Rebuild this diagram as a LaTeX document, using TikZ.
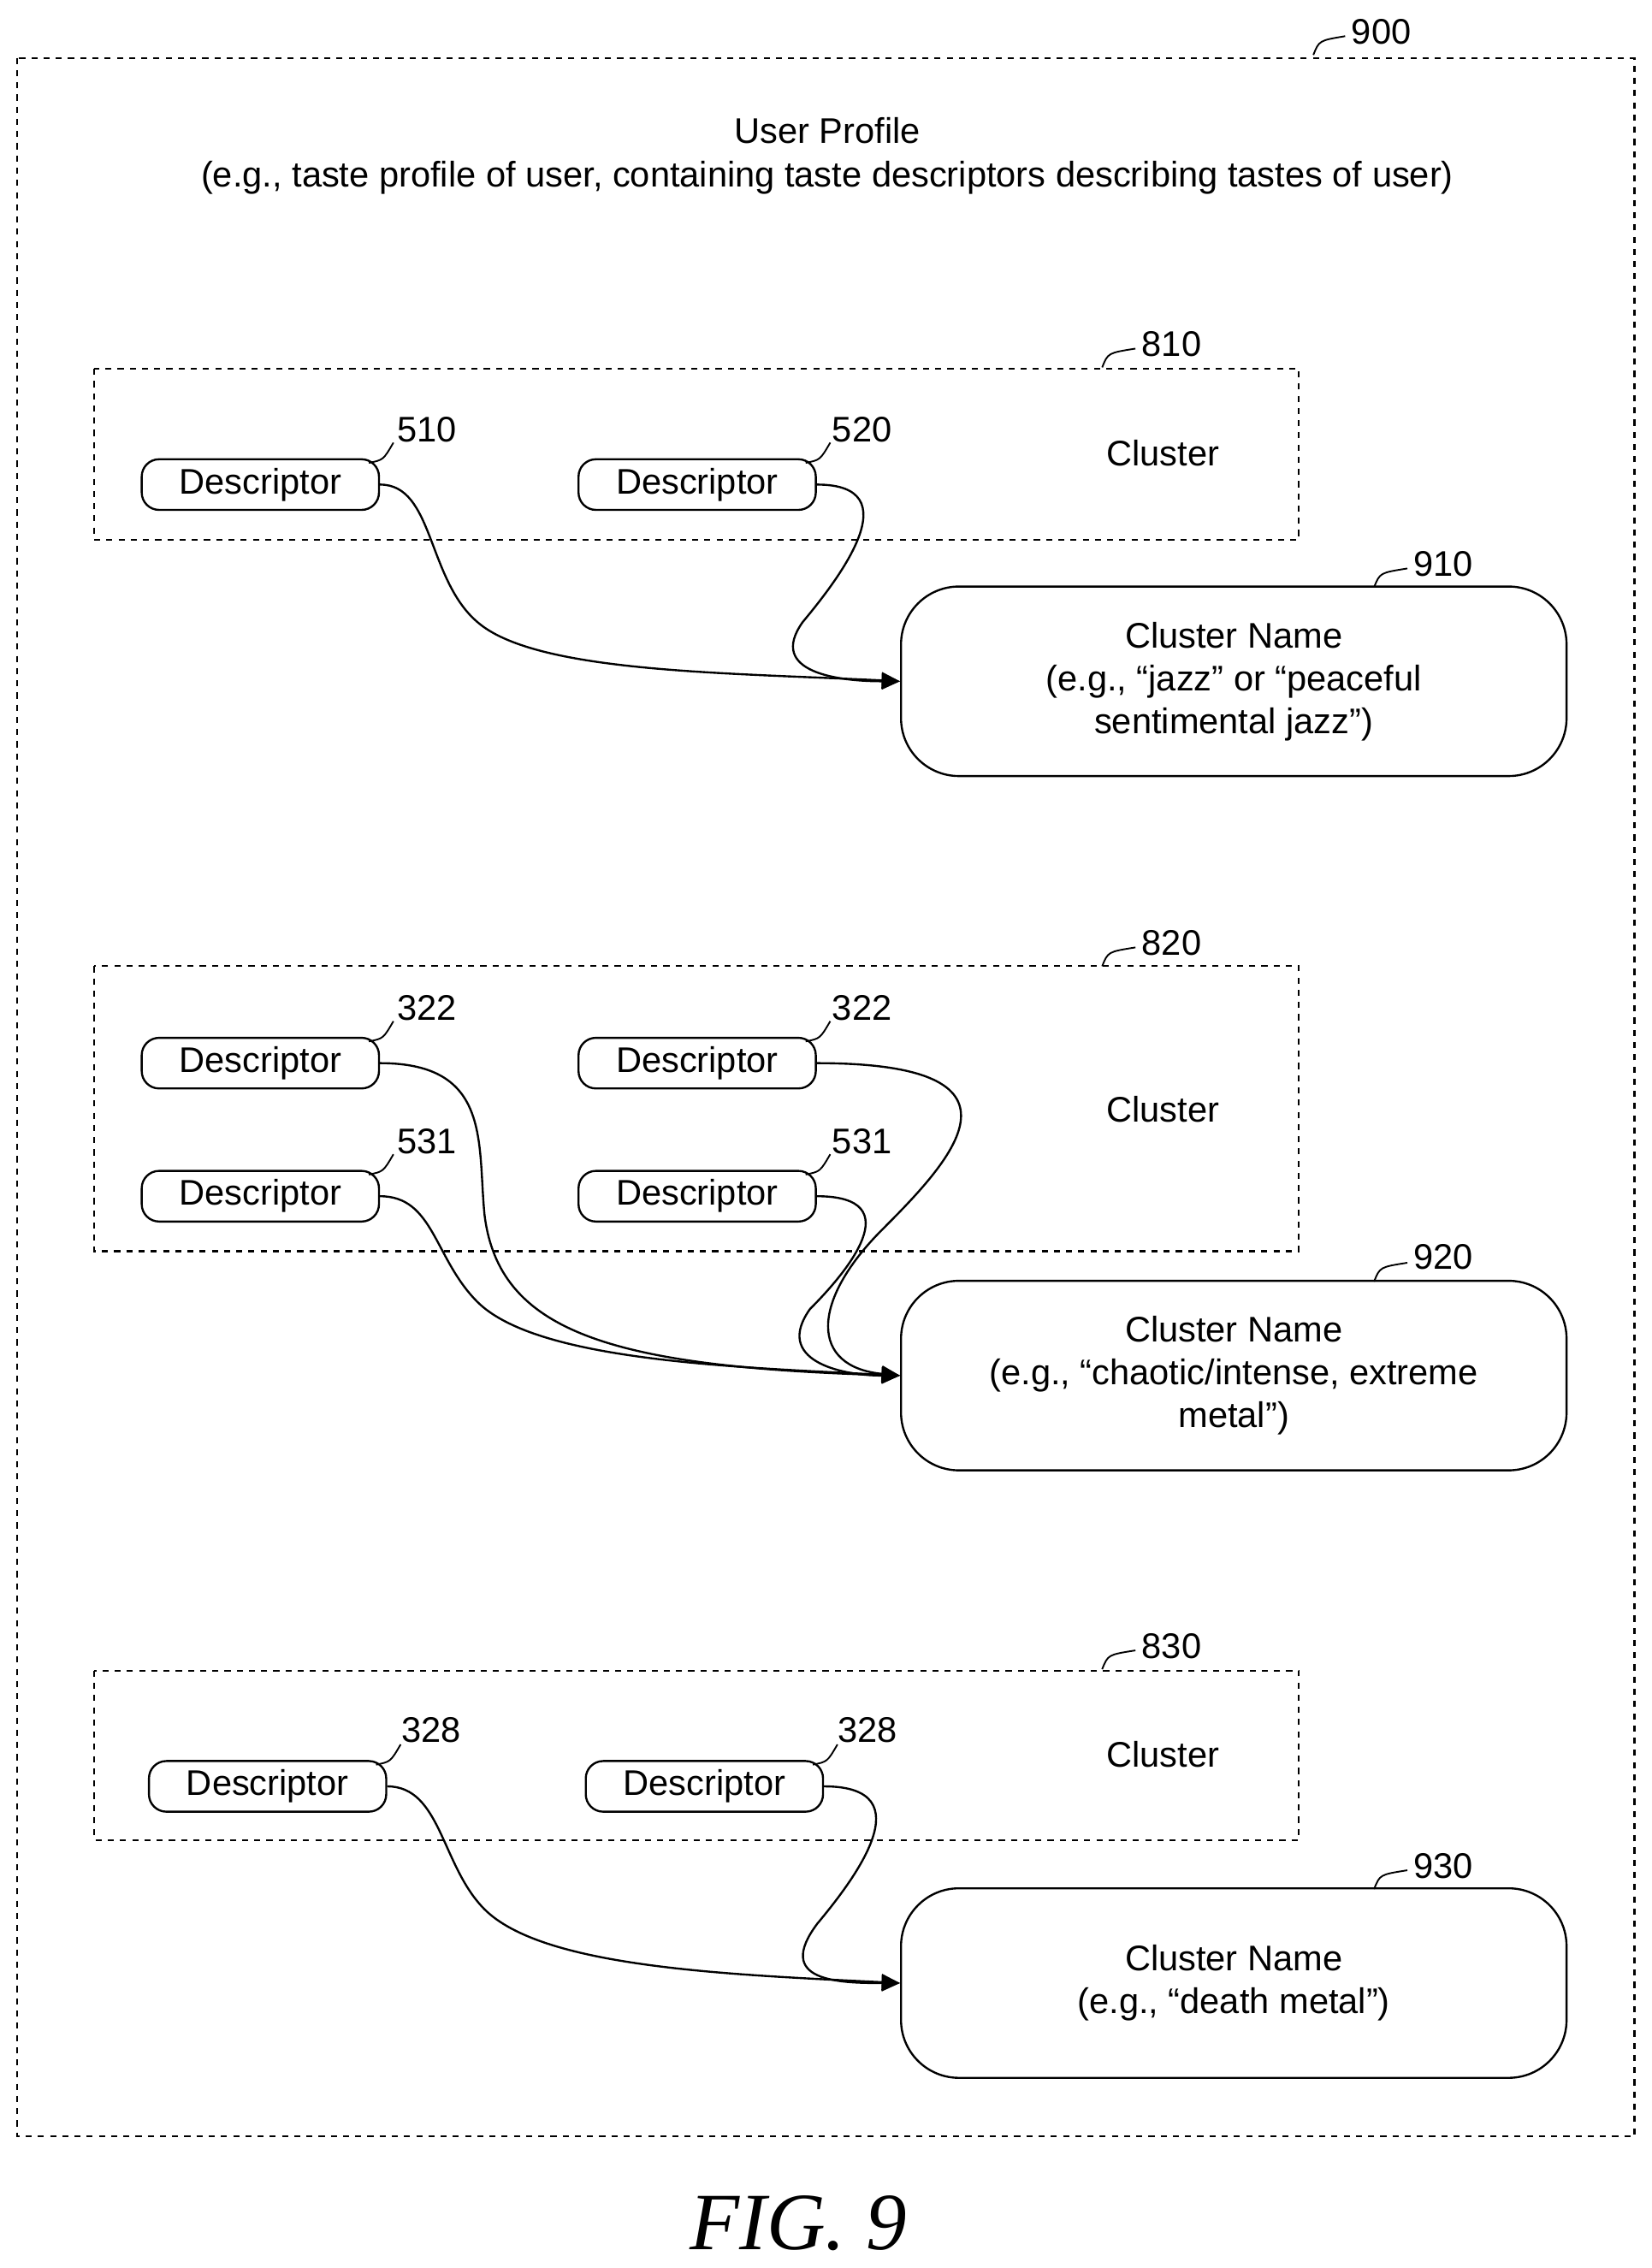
\documentclass[tikz,border=0pt]{standalone}
\usepackage{fontspec}
\setmainfont{Liberation Sans}
\newfontfamily\figfont{Liberation Serif}
\usetikzlibrary{arrows.meta}
\begin{document}
\begin{tikzpicture}[x=0.025cm,y=-0.025cm,
  every node/.style={font=\fontsize{17.5}{21}\selectfont},
  box/.style={draw,dashed,line width=0.9pt},
  desc/.style={draw,line width=1pt,rounded corners=0.3cm,minimum width=4.1cm,minimum height=0.875cm,inner sep=0pt},
  cname/.style={draw,line width=1pt,rounded corners=1cm,minimum width=11.5cm,minimum height=3.275cm,align=center,inner sep=0pt,font=\fontsize{17.5}{21}\selectfont},
  conn/.style={line width=1pt,-{Triangle[length=9pt,width=8pt]}},
  hook/.style={line width=0.8pt}]
\useasboundingbox (0,0) rectangle (1142,1568);
% outer
\draw[box] (12,40) rectangle (1130,1477);
\node (l900) at (955,22) {900};
\draw[hook] (908,38) .. controls (912,28) .. (930,25);
\node (t1) at (572,90) {User Profile};
\node (t2) at (572,123) {(e.g., taste profile of user, containing taste descriptors describing tastes of user)};
% cluster 810
\draw[box] (65,255) rectangle (898,373);
\node (l810) at (810,238) {810};
\draw[hook] (762,254) .. controls (766,244) .. (785,241);
\node (c1) at (804,313) {Cluster};
\node[desc] (d510) at (180,335) {Descriptor};
\node[desc] (d520) at (482,335) {Descriptor};
\node (l510) at (295,297) {510};
\node (l520) at (596,297) {520};
\draw[hook] (255,320) .. controls (265,318) .. (272,306);
\draw[hook] (557,320) .. controls (567,318) .. (574,306);
\node[cname] (n910) at (853,471) {Cluster Name\\(e.g., “jazz” or “peaceful\\sentimental jazz”)};
\node (l910) at (998,390) {910};
\draw[hook] (950,406) .. controls (954,396) .. (973,393);
\draw[conn] (d510.east) .. controls (300,335) and (295,400) .. (330,430) .. controls (370,465) and (500,465) .. (n910.west);
\draw[conn] (d520.east) .. controls (630,335) and (580,400) .. (555,430) .. controls (530,465) and (580,471) .. (n910.west);
% cluster 820
\draw[box] (65,668) rectangle (898,865);
\node (l820) at (810,652) {820};
\draw[hook] (762,668) .. controls (766,658) .. (785,655);
\node (c2) at (804,767) {Cluster};
\node[desc] (d1) at (180,735) {Descriptor};
\node[desc] (d2) at (482,735) {Descriptor};
\node[desc] (d3) at (180,827) {Descriptor};
\node[desc] (d4) at (482,827) {Descriptor};
\node (l1) at (295,697) {322};
\node (l2) at (596,697) {322};
\node (l3) at (295,789) {531};
\node (l4) at (596,789) {531};
\draw[hook] (255,720) .. controls (265,718) .. (272,706);
\draw[hook] (557,720) .. controls (567,718) .. (574,706);
\draw[hook] (255,812) .. controls (265,810) .. (272,798);
\draw[hook] (557,812) .. controls (567,810) .. (574,798);
\node[cname] (n920) at (853,951) {Cluster Name\\(e.g., “chaotic/intense, extreme\\metal”)};
\node (l920) at (998,869) {920};
\draw[hook] (950,886) .. controls (954,876) .. (973,873);
\draw[conn] (d1.east) .. controls (340,735) and (330,790) .. (335,840) .. controls (345,920) and (420,945) .. (n920.west);
\draw[conn] (d3.east) .. controls (300,827) and (300,870) .. (330,900) .. controls (370,940) and (500,945) .. (n920.west);
\draw[conn] (d2.east) .. controls (720,735) and (660,800) .. (610,850) .. controls (560,900) and (560,945) .. (n920.west);
\draw[conn] (d4.east) .. controls (630,827) and (585,880) .. (560,905) .. controls (535,940) and (580,951) .. (n920.west);
% cluster 830
\draw[box] (65,1155) rectangle (898,1272);
\node (l830) at (810,1138) {830};
\draw[hook] (762,1154) .. controls (766,1144) .. (785,1141);
\node (c3) at (804,1213) {Cluster};
\node[desc] (d5) at (185,1235) {Descriptor};
\node[desc] (d6) at (487,1235) {Descriptor};
\node (l5) at (298,1196) {328};
\node (l6) at (600,1196) {328};
\draw[hook] (260,1220) .. controls (270,1218) .. (277,1206);
\draw[hook] (562,1220) .. controls (572,1218) .. (579,1206);
\node[cname] (n930) at (853,1371) {Cluster Name\\(e.g., “death metal”)};
\node (l930) at (998,1290) {930};
\draw[hook] (950,1306) .. controls (954,1296) .. (973,1293);
\draw[conn] (d5.east) .. controls (305,1235) and (305,1290) .. (335,1320) .. controls (375,1360) and (500,1365) .. (n930.west);
\draw[conn] (d6.east) .. controls (640,1235) and (590,1300) .. (565,1330) .. controls (535,1370) and (580,1371) .. (n930.west);
\node[font=\figfont\itshape\fontsize{40}{48}\selectfont] (fig) at (552,1537) {FIG. 9};
\end{tikzpicture}
\end{document}
